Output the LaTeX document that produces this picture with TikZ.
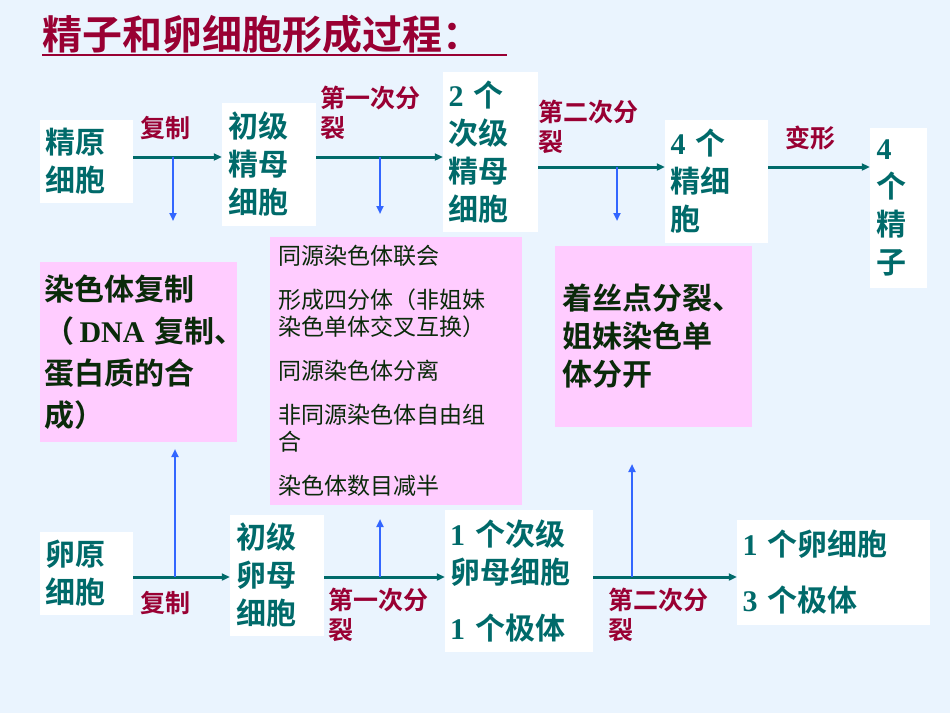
\documentclass[tikz,border=0pt]{standalone}
\usepackage{fontspec}
\newfontfamily\cjkb{Noto Sans CJK SC Bold}
\newfontfamily\cjk{Noto Sans CJK SC}
\newfontfamily\numf{Liberation Serif}[BoldFont={Liberation Serif Bold}]
\newcommand{\nb}[1]{{\numf\bfseries #1}}
\definecolor{bg}{HTML}{EAF4FE}
\definecolor{tealc}{HTML}{006A6A}
\definecolor{redc}{HTML}{990033}
\definecolor{pinkc}{HTML}{FFCCFF}
\definecolor{bluec}{HTML}{3366FF}
\definecolor{darkc}{HTML}{0A2A0A}
\tikzset{
 wbox/.style={fill=white,inner sep=0pt,align=left,font=\cjkb\fontsize{30}{38}\selectfont,text=tealc},
 pbox/.style={fill=pinkc,inner sep=0pt,align=left,text=darkc},
 lab/.style={font=\cjkb\fontsize{25}{30}\selectfont,text=redc,align=left,inner sep=0pt,anchor=north west},
 harr/.style={-{Triangle[length=8pt,width=7pt]},line width=3pt,draw=tealc},
 varr/.style={-{Triangle[length=8pt,width=7pt]},line width=2pt,draw=bluec},
}
\usetikzlibrary{arrows.meta}
\begin{document}
\begin{tikzpicture}[x=1pt,y=-1pt]
\fill[bg] (0,0) rectangle (950,713);
\useasboundingbox (0,0) rectangle (950,713);
% title
\node[anchor=west,inner sep=0pt,font=\cjkb\fontsize{40}{44}\selectfont,text=redc] (title) at (42,34) {精子和卵细胞形成过程：};
\draw[redc,line width=1.5pt] (42,55) -- (507,55);
% top row
\node[wbox,minimum width=93pt,minimum height=83pt,text width=82pt] (a1) at (86.5,161.5) {精原\\细胞};
\node[wbox,minimum width=94pt,minimum height=123pt,text width=82pt] (a2) at (269,164.5) {初级\\精母\\细胞};
\node[wbox,minimum width=95pt,minimum height=160pt,text width=84pt] (a3) at (490.5,152) {\nb{2} 个\\次级\\精母\\细胞};
\node[wbox,minimum width=103pt,minimum height=123pt,text width=92pt] (a4) at (716.5,181.5) {\nb{4} 个\\精细\\胞};
\node[wbox,minimum width=57pt,minimum height=160pt,text width=44pt] (a5) at (898.5,208) {\nb{4}\\个\\精\\子};
\node[lab] (l1) at (140,116) {复制};
\node[lab] (l2) at (320,86) {第一次分\\裂};
\node[lab] (l3) at (538,100) {第二次分\\裂};
\node[lab] (l4) at (785,126) {变形};
\draw[harr] (a1.east |- 0,157) -- (a2.west |- 0,157);
\draw[harr] (a2.east |- 0,157) -- (a3.west |- 0,157);
\draw[harr] (a3.east |- 0,167) -- (a4.west |- 0,167);
\draw[harr] (a4.east |- 0,167) -- (a5.west |- 0,167);
% pink boxes
\node[pbox,minimum width=197pt,minimum height=180pt,text width=188pt,font=\cjkb\fontsize{30}{42}\selectfont] (p1) at (138.5,352) {染色体复制\\\mbox{（\,\nb{DNA} 复制、}\\蛋白质的合\\成）};
\node[pbox,minimum width=252pt,minimum height=268pt,text width=236pt,font=\cjk\fontsize{23}{27}\selectfont] (p2) at (396,371) {同源染色体联会\\[17pt]形成四分体（非姐妹\\染色单体交叉互换）\\[17pt]同源染色体分离\\[17pt]非同源染色体自由组\\合\\[17pt]染色体数目减半};
\node[pbox,minimum width=197pt,minimum height=181pt,text width=182pt,font=\cjkb\fontsize{30}{38}\selectfont] (p3) at (653.5,336.5) {着丝点分裂、\\姐妹染色单\\体分开};
\coordinate (v1) at (173,157); \coordinate (v1e) at (173,221);
\coordinate (v2) at (380,157); \coordinate (v2e) at (380,214);
\coordinate (v3) at (617,167); \coordinate (v3e) at (617,221);
\draw[varr] (v1) -- (v1e);
\draw[varr] (v2) -- (v2e);
\draw[varr] (v3) -- (v3e);
% bottom row
\node[wbox,minimum width=93pt,minimum height=83pt,text width=82pt] (b1) at (86.5,573.5) {卵原\\细胞};
\node[wbox,minimum width=94pt,minimum height=121pt,text width=82pt] (b2) at (277,575.5) {初级\\卵母\\细胞};
\node[wbox,minimum width=148pt,minimum height=142pt,text width=138pt] (b3) at (519,581) {\nb{1} 个次级\\卵母细胞\\[18pt]\nb{1} 个极体};
\node[wbox,minimum width=193pt,minimum height=105pt,text width=182pt,font=\cjkb\fontsize{30}{56}\selectfont] (b4) at (833.5,572.5) {\nb{1} 个卵细胞\\\nb{3} 个极体};
\draw[harr] (b1.east |- 0,577) -- (b2.west |- 0,577);
\draw[harr] (b2.east |- 0,577) -- (b3.west |- 0,577);
\draw[harr] (b3.east |- 0,577) -- (b4.west |- 0,577);
\node[lab] (m1) at (140,591) {复制};
\node[lab] (m2) at (328,588) {第一次分\\裂};
\node[lab] (m3) at (608,588) {第二次分\\裂};
\coordinate (u1) at (175,577); \coordinate (u1e) at (175,449);
\coordinate (u2) at (380,577); \coordinate (u2e) at (380,519);
\coordinate (u3) at (632,577); \coordinate (u3e) at (632,464);
\draw[varr] (u1) -- (u1e);
\draw[varr] (u2) -- (u2e);
\draw[varr] (u3) -- (u3e);
\end{tikzpicture}
\end{document}
